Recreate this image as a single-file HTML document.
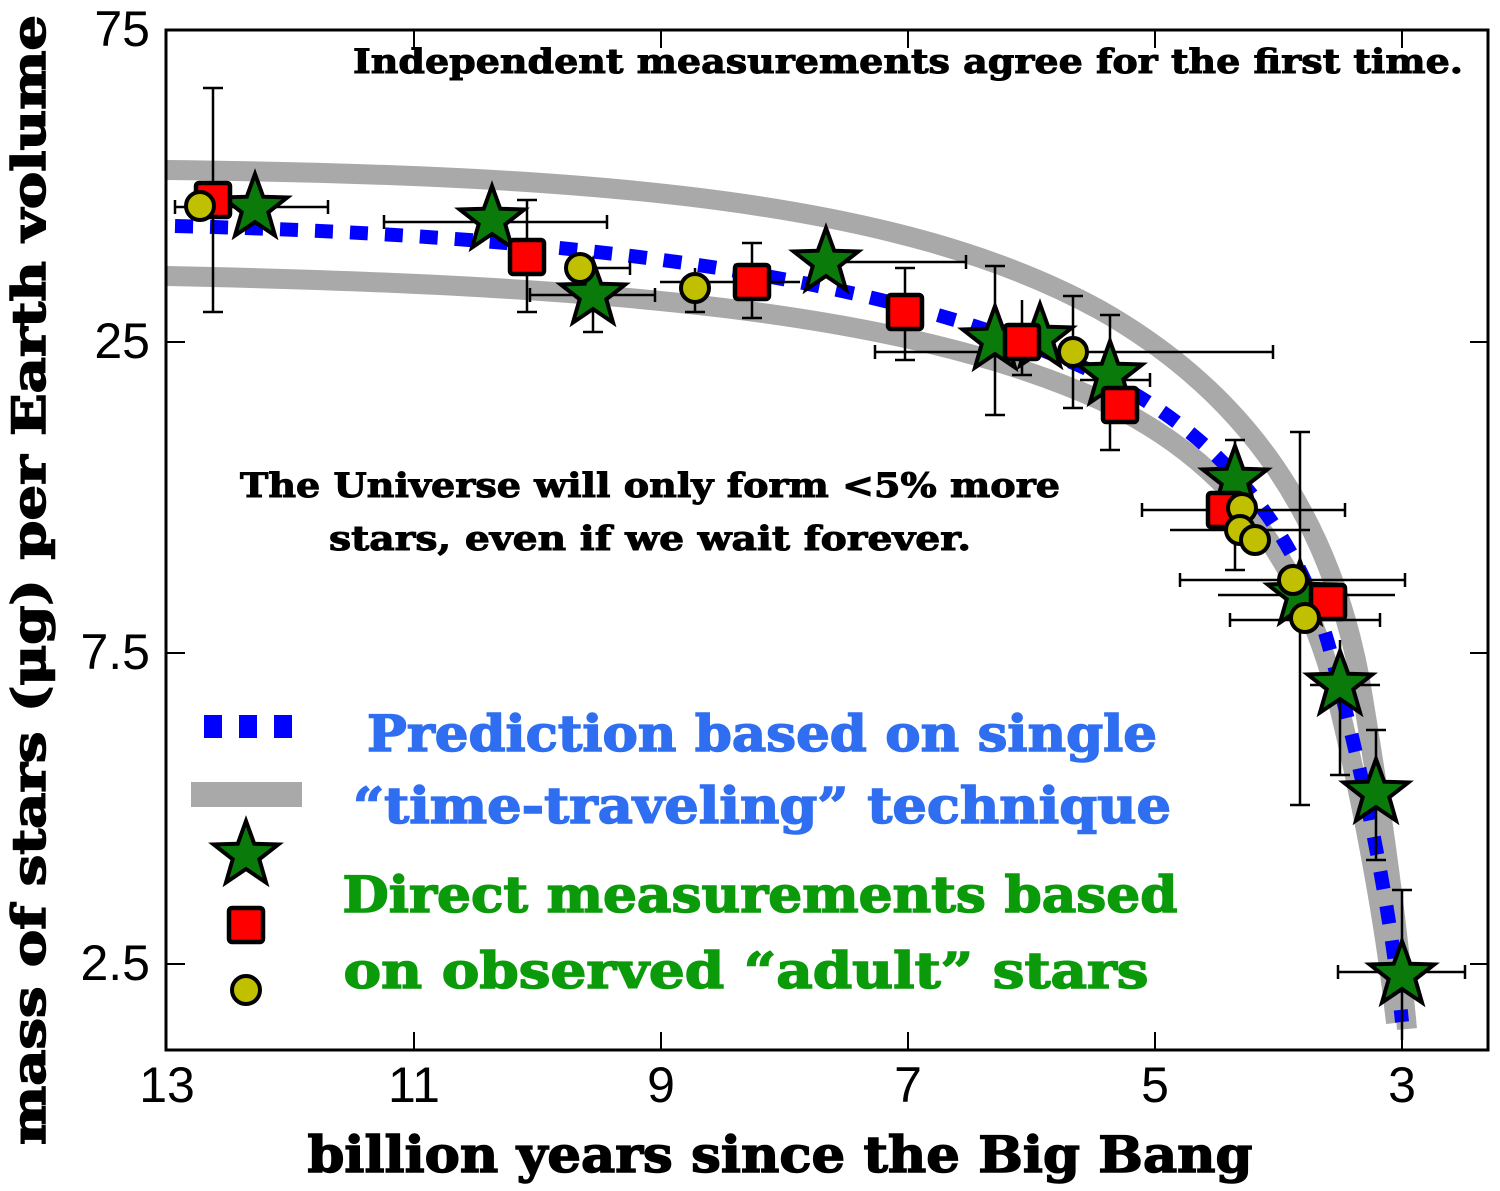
<!DOCTYPE html>
<html><head><meta charset="utf-8"><style>
html,body{margin:0;padding:0;background:#fff;}
svg{display:block;}
.t{font-family:"DejaVu Serif","Liberation Serif",serif;font-weight:bold;}
.n{font-family:"Liberation Sans",sans-serif;}
</style></head><body>
<svg width="1500" height="1191" viewBox="0 0 1500 1191" xmlns="http://www.w3.org/2000/svg">
<defs>
<polygon id="st" points="0,-34 8.2,-11.3 32.3,-10.5 13.3,4.3 20,27.5 0,14 -20,27.5 -13.3,4.3 -32.3,-10.5 -8.2,-11.3" fill="#0a7a0a" stroke="#000" stroke-width="4" stroke-linejoin="miter"/>
<rect id="sq" x="-17" y="-17" width="34" height="34" rx="3" fill="#ff0000" stroke="#000" stroke-width="4.5"/>
<circle id="ci" r="14" fill="#c0c000" stroke="#000" stroke-width="4"/>
</defs>
<!-- bands -->
<g fill="none">
<path d="M167,170 C600,175 900,200 1100,310 C1250,395 1330,520 1360,680 C1380,800 1395,900 1407,1029" stroke="#a9a9a9" stroke-width="20"/>
<path d="M167,276 C600,285 900,310 1100,400 C1230,460 1300,560 1335,690 C1360,790 1385,920 1396,1023" stroke="#a9a9a9" stroke-width="20"/>
<path d="M175,226 C600,236 900,280 1100,375 C1230,440 1300,540 1330,650 C1360,760 1390,900 1402,1022" stroke="#0000ff" stroke-width="14" stroke-dasharray="18,17"/>
</g>
<!-- error bars -->
<g stroke="#000" stroke-width="2.5" fill="none">
<path d="M213,88V312M203,88h20M203,312h20M175,207H328M175,200v14M328,200v14"/>
<path d="M527,200V312M517,200h20M517,312h20M384,222H607M384,215v14M607,215v14"/>
<path d="M593,260V332M583,332h20M530,295H655M530,288v14M655,288v14"/>
<path d="M580,268H630M630,261v14"/>
<path d="M695,268V312M685,312h20M752,243V318M742,243h20M742,318h20M660,282H800"/>
<path d="M826,262H966M966,255v14M905,268V360M895,268h20M895,360h20M875,352H985M875,345v14"/>
<path d="M995,266V415M985,266h20M985,415h20M1022,300V375M1012,375h20M1073,296V408M1063,296h20M1063,408h20M1073,352H1273M1273,345v14"/>
<path d="M1110,315V450M1100,315h20M1100,450h20M1080,380H1150M1150,373v14"/>
<path d="M1235,440V570M1225,440h20M1225,570h20M1142,510H1345M1142,503v14M1345,503v14M1170,530H1310M1180,580H1405M1180,573v14M1405,573v14"/>
<path d="M1300,432V805M1290,432h20M1290,805h20M1218,595H1395M1230,620H1380M1230,613v14M1380,613v14"/>
<path d="M1340,640V775M1330,775h20M1310,685H1380M1376,730V860M1366,730h20M1366,860h20"/>
<path d="M1402,890V1040M1392,890h20M1338,972H1465M1338,965v14M1465,965v14"/>
</g>
<!-- markers -->
<use href="#st" x="255" y="208"/><use href="#st" x="492" y="220"/><use href="#st" x="593" y="295"/><use href="#st" x="826" y="262"/>
<use href="#st" x="995" y="340"/><use href="#st" x="1040" y="338"/><use href="#st" x="1110" y="375"/><use href="#st" x="1235" y="480"/>
<use href="#st" x="1300" y="595"/><use href="#st" x="1340" y="685"/><use href="#st" x="1376" y="793"/><use href="#st" x="1402" y="975"/>
<use href="#sq" x="213" y="200"/><use href="#sq" x="527" y="257"/><use href="#sq" x="752" y="282"/><use href="#sq" x="905" y="312"/>
<use href="#sq" x="1022" y="342"/><use href="#sq" x="1120" y="405"/><use href="#sq" x="1225" y="510"/><use href="#sq" x="1328" y="602"/>
<use href="#ci" x="200" y="206"/><use href="#ci" x="580" y="268"/><use href="#ci" x="695" y="288"/><use href="#ci" x="1073" y="352"/>
<use href="#ci" x="1242" y="508"/><use href="#ci" x="1240" y="530"/><use href="#ci" x="1255" y="540"/><use href="#ci" x="1293" y="580"/><use href="#ci" x="1305" y="618"/>
<!-- axes -->
<rect x="166" y="30" width="1322" height="1020" fill="none" stroke="#000" stroke-width="3"/>
<g stroke="#000" stroke-width="2">
<path d="M167,342h18M167,653h18M167,964h18M1488,342h-18M1488,653h-18M1488,964h-18M1488,30h-18"/>
<path d="M414,1050v-18M661,1050v-18M908,1050v-18M1155,1050v-18M1402,1050v-18M414,30v18M661,30v18M908,30v18M1155,30v18M1402,30v18"/>
</g>
<g class="n" font-size="50" fill="#000">
<text x="150" y="46" text-anchor="end">75</text>
<text x="150" y="358" text-anchor="end">25</text>
<text x="150" y="669" text-anchor="end">7.5</text>
<text x="150" y="980" text-anchor="end">2.5</text>
<text x="167" y="1102" text-anchor="middle">13</text>
<text x="414" y="1102" text-anchor="middle">11</text>
<text x="661" y="1102" text-anchor="middle">9</text>
<text x="908" y="1102" text-anchor="middle">7</text>
<text x="1155" y="1102" text-anchor="middle">5</text>
<text x="1402" y="1102" text-anchor="middle">3</text>
</g>
<g stroke="#000" stroke-width="1.5">
<text class="t" x="780" y="1172" font-size="50" text-anchor="middle" textLength="945" lengthAdjust="spacingAndGlyphs">billion years since the Big Bang</text>
<text class="t" font-size="46" text-anchor="middle" transform="translate(45,580) rotate(-90)" textLength="1130" lengthAdjust="spacingAndGlyphs">mass of stars (μg) per Earth volume</text>
</g>
<g stroke="#000" stroke-width="1">
<text class="t" x="908" y="73" font-size="34" text-anchor="middle" textLength="1110" lengthAdjust="spacingAndGlyphs">Independent measurements agree for the first time.</text>
<text class="t" x="650" y="497" font-size="34" text-anchor="middle" textLength="820" lengthAdjust="spacingAndGlyphs">The Universe will only form &lt;5% more</text>
<text class="t" x="650" y="550" font-size="34" text-anchor="middle" textLength="642" lengthAdjust="spacingAndGlyphs">stars, even if we wait forever.</text>
</g>
<!-- legend -->
<g fill="#0000ff"><rect x="204" y="715" width="18" height="23"/><rect x="239" y="715" width="18" height="23"/><rect x="274" y="715" width="18" height="23"/></g>
<rect x="191" y="782" width="111" height="25" fill="#a9a9a9"/>
<use href="#st" x="246" y="855"/>
<use href="#sq" x="246" y="925"/>
<use href="#ci" x="246" y="990"/>
<g class="t" font-size="50" text-anchor="middle" stroke-width="1.5">
<text x="762" y="751" fill="#2f6ef0" stroke="#2f6ef0" textLength="790" lengthAdjust="spacingAndGlyphs">Prediction based on single</text>
<text x="762" y="823" fill="#2f6ef0" stroke="#2f6ef0" textLength="818" lengthAdjust="spacingAndGlyphs">“time-traveling” technique</text>
<text x="760" y="912" fill="#0a9a0a" stroke="#0a9a0a" textLength="835" lengthAdjust="spacingAndGlyphs">Direct measurements based</text>
<text x="746" y="988" fill="#0a9a0a" stroke="#0a9a0a" textLength="805" lengthAdjust="spacingAndGlyphs">on observed “adult” stars</text>
</g>
</svg>
</body></html>
